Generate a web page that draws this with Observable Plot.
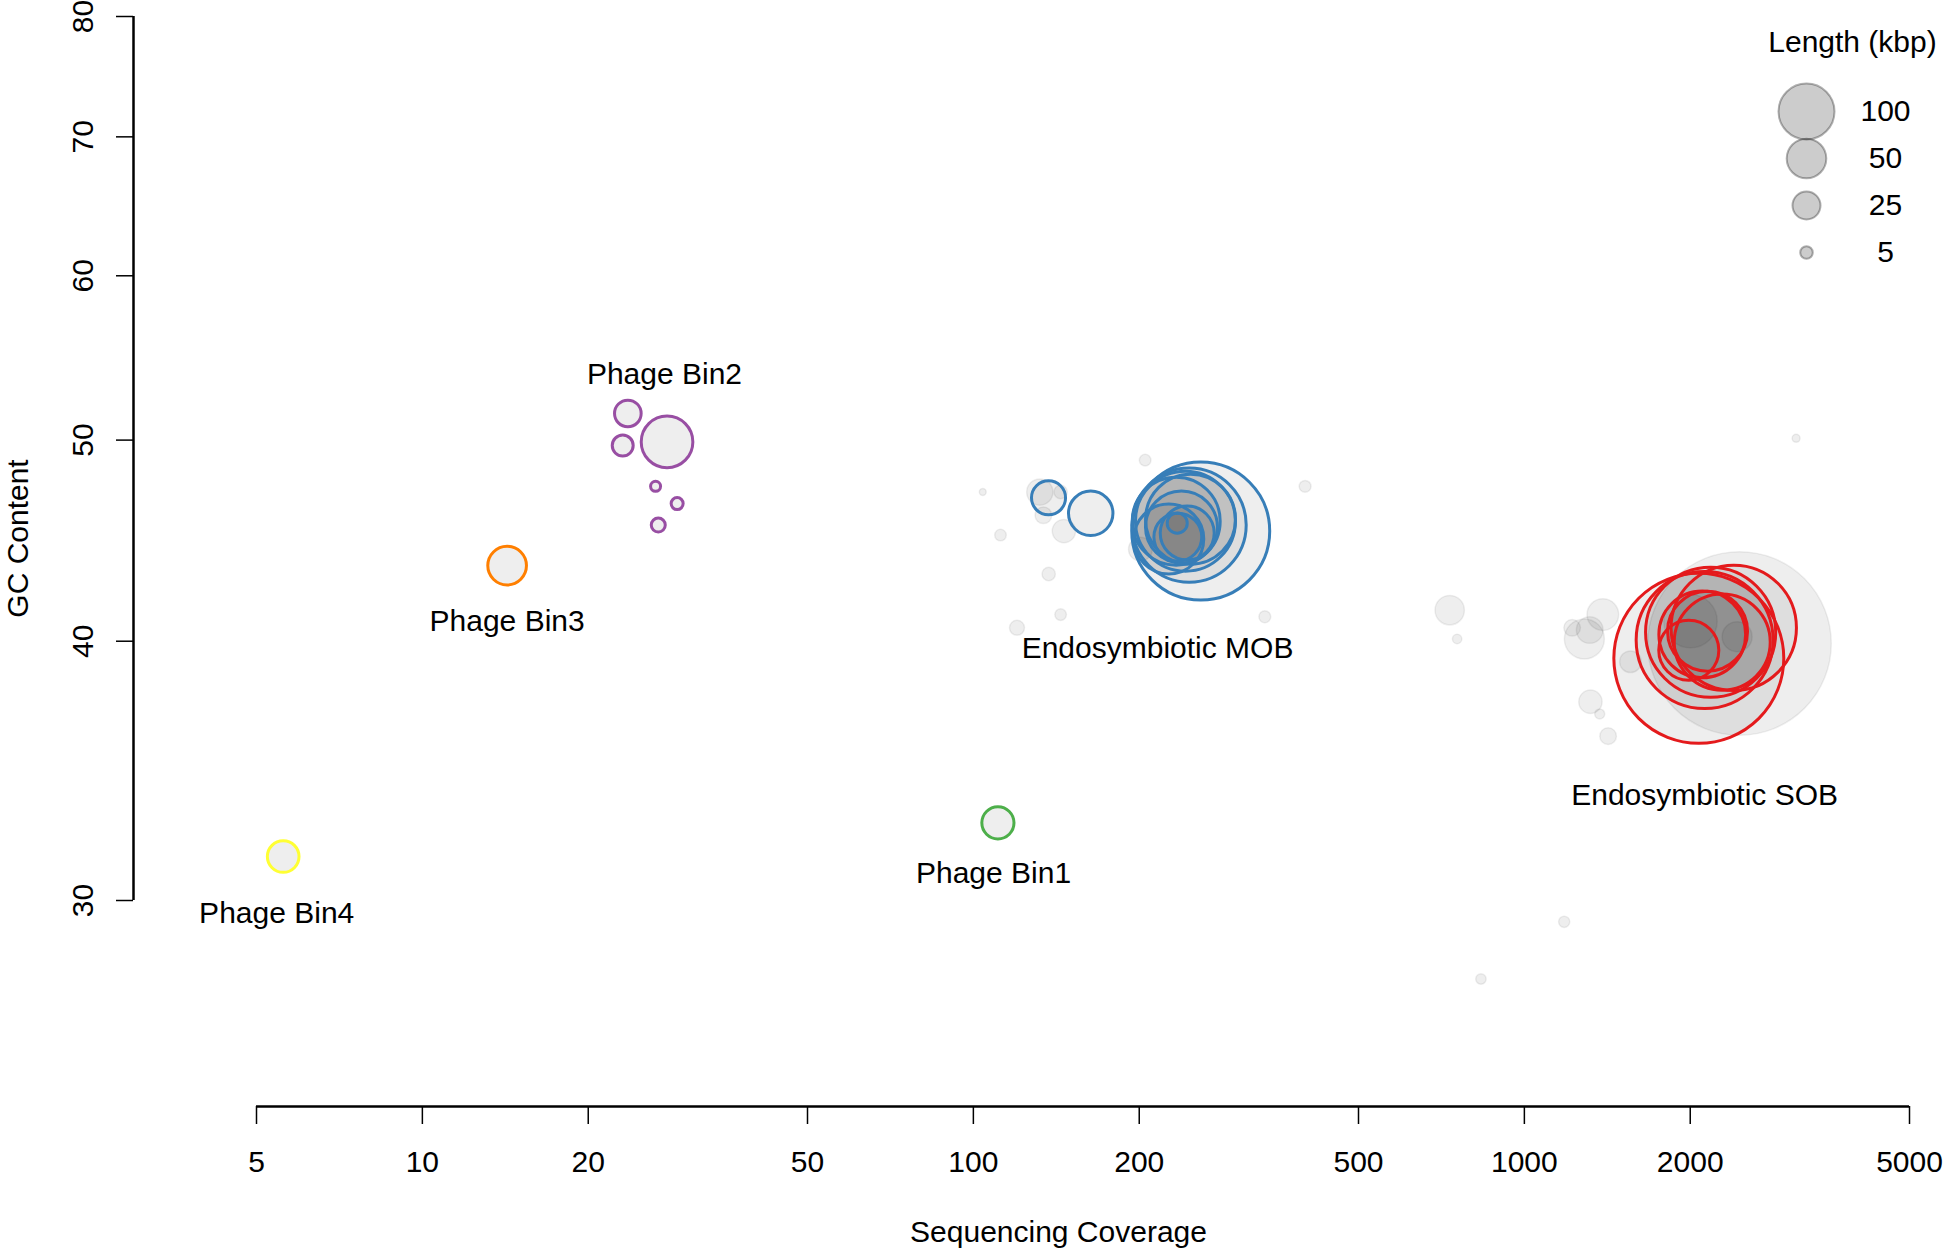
<!DOCTYPE html>
<html>
<head>
<meta charset="utf-8">
<script src="https://cdn.jsdelivr.net/npm/d3@7"></script>
<script src="https://cdn.jsdelivr.net/npm/@observablehq/plot@0.6"></script>
<style>
  html, body { margin: 0; padding: 0; background: #fff; }
  #wrap { position: relative; width: 1946px; height: 1249px; }
  #legend { position: absolute; left: 1740px; top: 0px; }
</style>
</head>
<body>
<div id="wrap"><div id="chart"></div><div id="legend"></div></div>
<script>
// ---- data ----
const binNames  = ["Phage Bin1", "Phage Bin2", "Phage Bin3", "Phage Bin4", "Endosymbiotic MOB", "Endosymbiotic SOB"];
const binColors = ["#4DAF4A", "#984EA3", "#FF7F00", "#FFFF33", "#377EB8", "#E41A1C"];

// contigs: sequencing coverage, GC content (%), length (kbp), bin ("" = unbinned)
const coverage = [
  104, 112, 120, 132, 134, 144, 146, 137, 144, 205, 201, 338, 400, 834, 1181, 3113,
  732, 755, 1221, 1285, 1314, 1388, 1318, 1370, 1419, 1558, 2433, 2002, 2457,
  110.8,
  27.8, 23.6, 23.1, 26.5, 29.0, 26.8,
  14.25,
  5.59,
  136.9, 163.3, 258.6, 246.4, 242.6, 238.6, 244.4, 234.4, 235, 226.3, 247.8, 233.4,
  2073, 2399, 2124, 2178, 2103, 2286, 1988, 2150
];
const gcContent = [
  47.2, 45.0, 40.6, 47.2, 46.0, 47.2, 45.2, 43.1, 41.2, 48.9, 44.3, 41.1, 47.5, 27.5, 29.3, 50.1,
  41.4, 40.1, 40.6, 40.1, 40.5, 41.2, 37.4, 36.9, 36.0, 39.1, 40.2, 40.9, 39.9,
  32.7,
  49.9, 51.5, 49.7, 47.5, 46.6, 45.5,
  43.5,
  31.5,
  46.9, 46.1, 45.2, 45.5, 45.7, 45.4, 45.1, 45.6, 44.9, 44.8, 45.8, 45.7,
  39.25, 40.6, 40.05, 40.4, 40.3, 39.96, 39.6, 40.45
];
const lengthKbp = [
  1.5, 4.3, 7.2, 22, 8.9, 5.7, 17.4, 5.7, 4.3, 4.3, 18, 4.5, 4.5, 3.5, 4, 2,
  27.5, 2.8, 8.8, 51, 22.7, 32, 17.4, 3.2, 8.8, 15, 28.7, 91, 1075,
  33,
  85, 22.6, 14, 3.2, 4.6, 6.25,
  47.7,
  32,
  37, 63, 607, 415, 319, 165, 93, 12.8, 73, 156, 258, 247,
  921, 501, 598, 540, 240, 294, 115, 204
];
const binOf = [
  "", "", "", "", "", "", "", "", "", "", "", "", "", "", "", "",
  "", "", "", "", "", "", "", "", "", "", "", "", "",
  "Phage Bin1",
  "Phage Bin2", "Phage Bin2", "Phage Bin2", "Phage Bin2", "Phage Bin2", "Phage Bin2",
  "Phage Bin3",
  "Phage Bin4",
  "Endosymbiotic MOB", "Endosymbiotic MOB", "Endosymbiotic MOB", "Endosymbiotic MOB", "Endosymbiotic MOB", "Endosymbiotic MOB",
  "Endosymbiotic MOB", "Endosymbiotic MOB", "Endosymbiotic MOB", "Endosymbiotic MOB", "Endosymbiotic MOB", "Endosymbiotic MOB",
  "Endosymbiotic SOB", "Endosymbiotic SOB", "Endosymbiotic SOB", "Endosymbiotic SOB",
  "Endosymbiotic SOB", "Endosymbiotic SOB", "Endosymbiotic SOB", "Endosymbiotic SOB"
];

// bin annotation labels (anchor in data units)
const labelText = ["Phage Bin2", "Phage Bin3", "Phage Bin4", "Phage Bin1", "Endosymbiotic MOB", "Endosymbiotic SOB"];
const labelCov  = [27.5, 14.25, 5.44, 108.8, 215.9, 2124];
const labelGC   = [53.8, 40.9, 29.57, 30.9, 39.7, 33.7];

const xTicks = [5, 10, 20, 50, 100, 200, 500, 1000, 2000, 5000];
const yTicks = [30, 40, 50, 60, 70, 80];
const legendSizes = [100, 50, 25, 5];

// ---- build tables ----
const points = coverage.map((c, i) => ({coverage: c, gc: gcContent[i], length: lengthKbp[i], bin: binOf[i]}));
const binned = points.filter(d => d.bin !== "");
const labels = labelText.map((t, i) => ({text: t, coverage: labelCov[i], gc: labelGC[i]}));

const font = "'Liberation Sans', Arial, Helvetica, sans-serif";
const rScale = {type: "sqrt", domain: [0, 100], range: [0, 28]};
const txt = {fontSize: 30, fill: "#000", textAnchor: "middle", lineAnchor: "middle"};

const chart = Plot.plot({
  width: 1946,
  height: 1249,
  marginLeft: 133,
  marginRight: 37,
  marginTop: 16,
  marginBottom: 143,
  x: {type: "log", domain: [5, 5000], range: [256, 1909], label: null},
  y: {type: "log", domain: [30, 80], range: [900, 16], label: null},
  r: rScale,
  color: {domain: binNames, range: binColors},
  style: {fontFamily: font, background: "#fff", color: "#000"},
  marks: [
    Plot.dot(points, {x: "coverage", y: "gc", r: "length",
      fill: "#000", fillOpacity: 0.065, stroke: "#000", strokeOpacity: 0.065, strokeWidth: 1.5}),
    Plot.dot(binned, {x: "coverage", y: "gc", r: "length", stroke: "bin", fill: "none", strokeWidth: 3}),
    Plot.text(labels, {x: "coverage", y: "gc", text: "text", ...txt}),
    // axis lines
    Plot.ruleY([30], {x1: 5, x2: 5000, dy: 206, strokeWidth: 2.5, stroke: "#000"}),
    Plot.ruleX([5], {y1: 30, y2: 80, dx: -123, strokeWidth: 2.5, stroke: "#000"}),
    // ticks
    Plot.axisX({ticks: xTicks, tickSize: 18, fill: "none", strokeWidth: 1.5, label: null}),
    Plot.axisY({ticks: yTicks, tickSize: 17, fill: "none", strokeWidth: 1.5, label: null}),
    // tick labels
    Plot.text(xTicks, {x: d => d, frameAnchor: "bottom", dy: 56, text: d => String(d), ...txt}),
    Plot.text(yTicks, {y: d => d, frameAnchor: "left", dx: -50, rotate: -90, text: d => String(d), ...txt}),
    // axis titles
    Plot.text(["Sequencing Coverage"], {frameAnchor: "bottom-left", dx: 925, dy: 126, text: d => d, ...txt}),
    Plot.text(["GC Content"], {frameAnchor: "top-left", dx: -115, dy: 522, rotate: -90, text: d => d, ...txt})
  ]
});
document.getElementById("chart").appendChild(chart);

const legend = Plot.plot({
  width: 206,
  height: 290,
  margin: 0,
  y: {type: "point", domain: legendSizes, range: [110, 253], padding: 0, axis: null},
  r: rScale,
  style: {fontFamily: font, background: "transparent", color: "#000"},
  marks: [
    Plot.dot(legendSizes, {y: d => d, r: d => d, frameAnchor: "left", dx: 66,
      fill: "#000", fillOpacity: 0.2, stroke: "#000", strokeOpacity: 0.3, strokeWidth: 2}),
    Plot.text(legendSizes, {y: d => d, frameAnchor: "left", dx: 145, text: d => String(d), ...txt}),
    Plot.text(["Length (kbp)"], {frameAnchor: "top-left", dx: 112, dy: 42, text: d => d, ...txt})
  ]
});
document.getElementById("legend").appendChild(legend);
</script>
</body>
</html>
